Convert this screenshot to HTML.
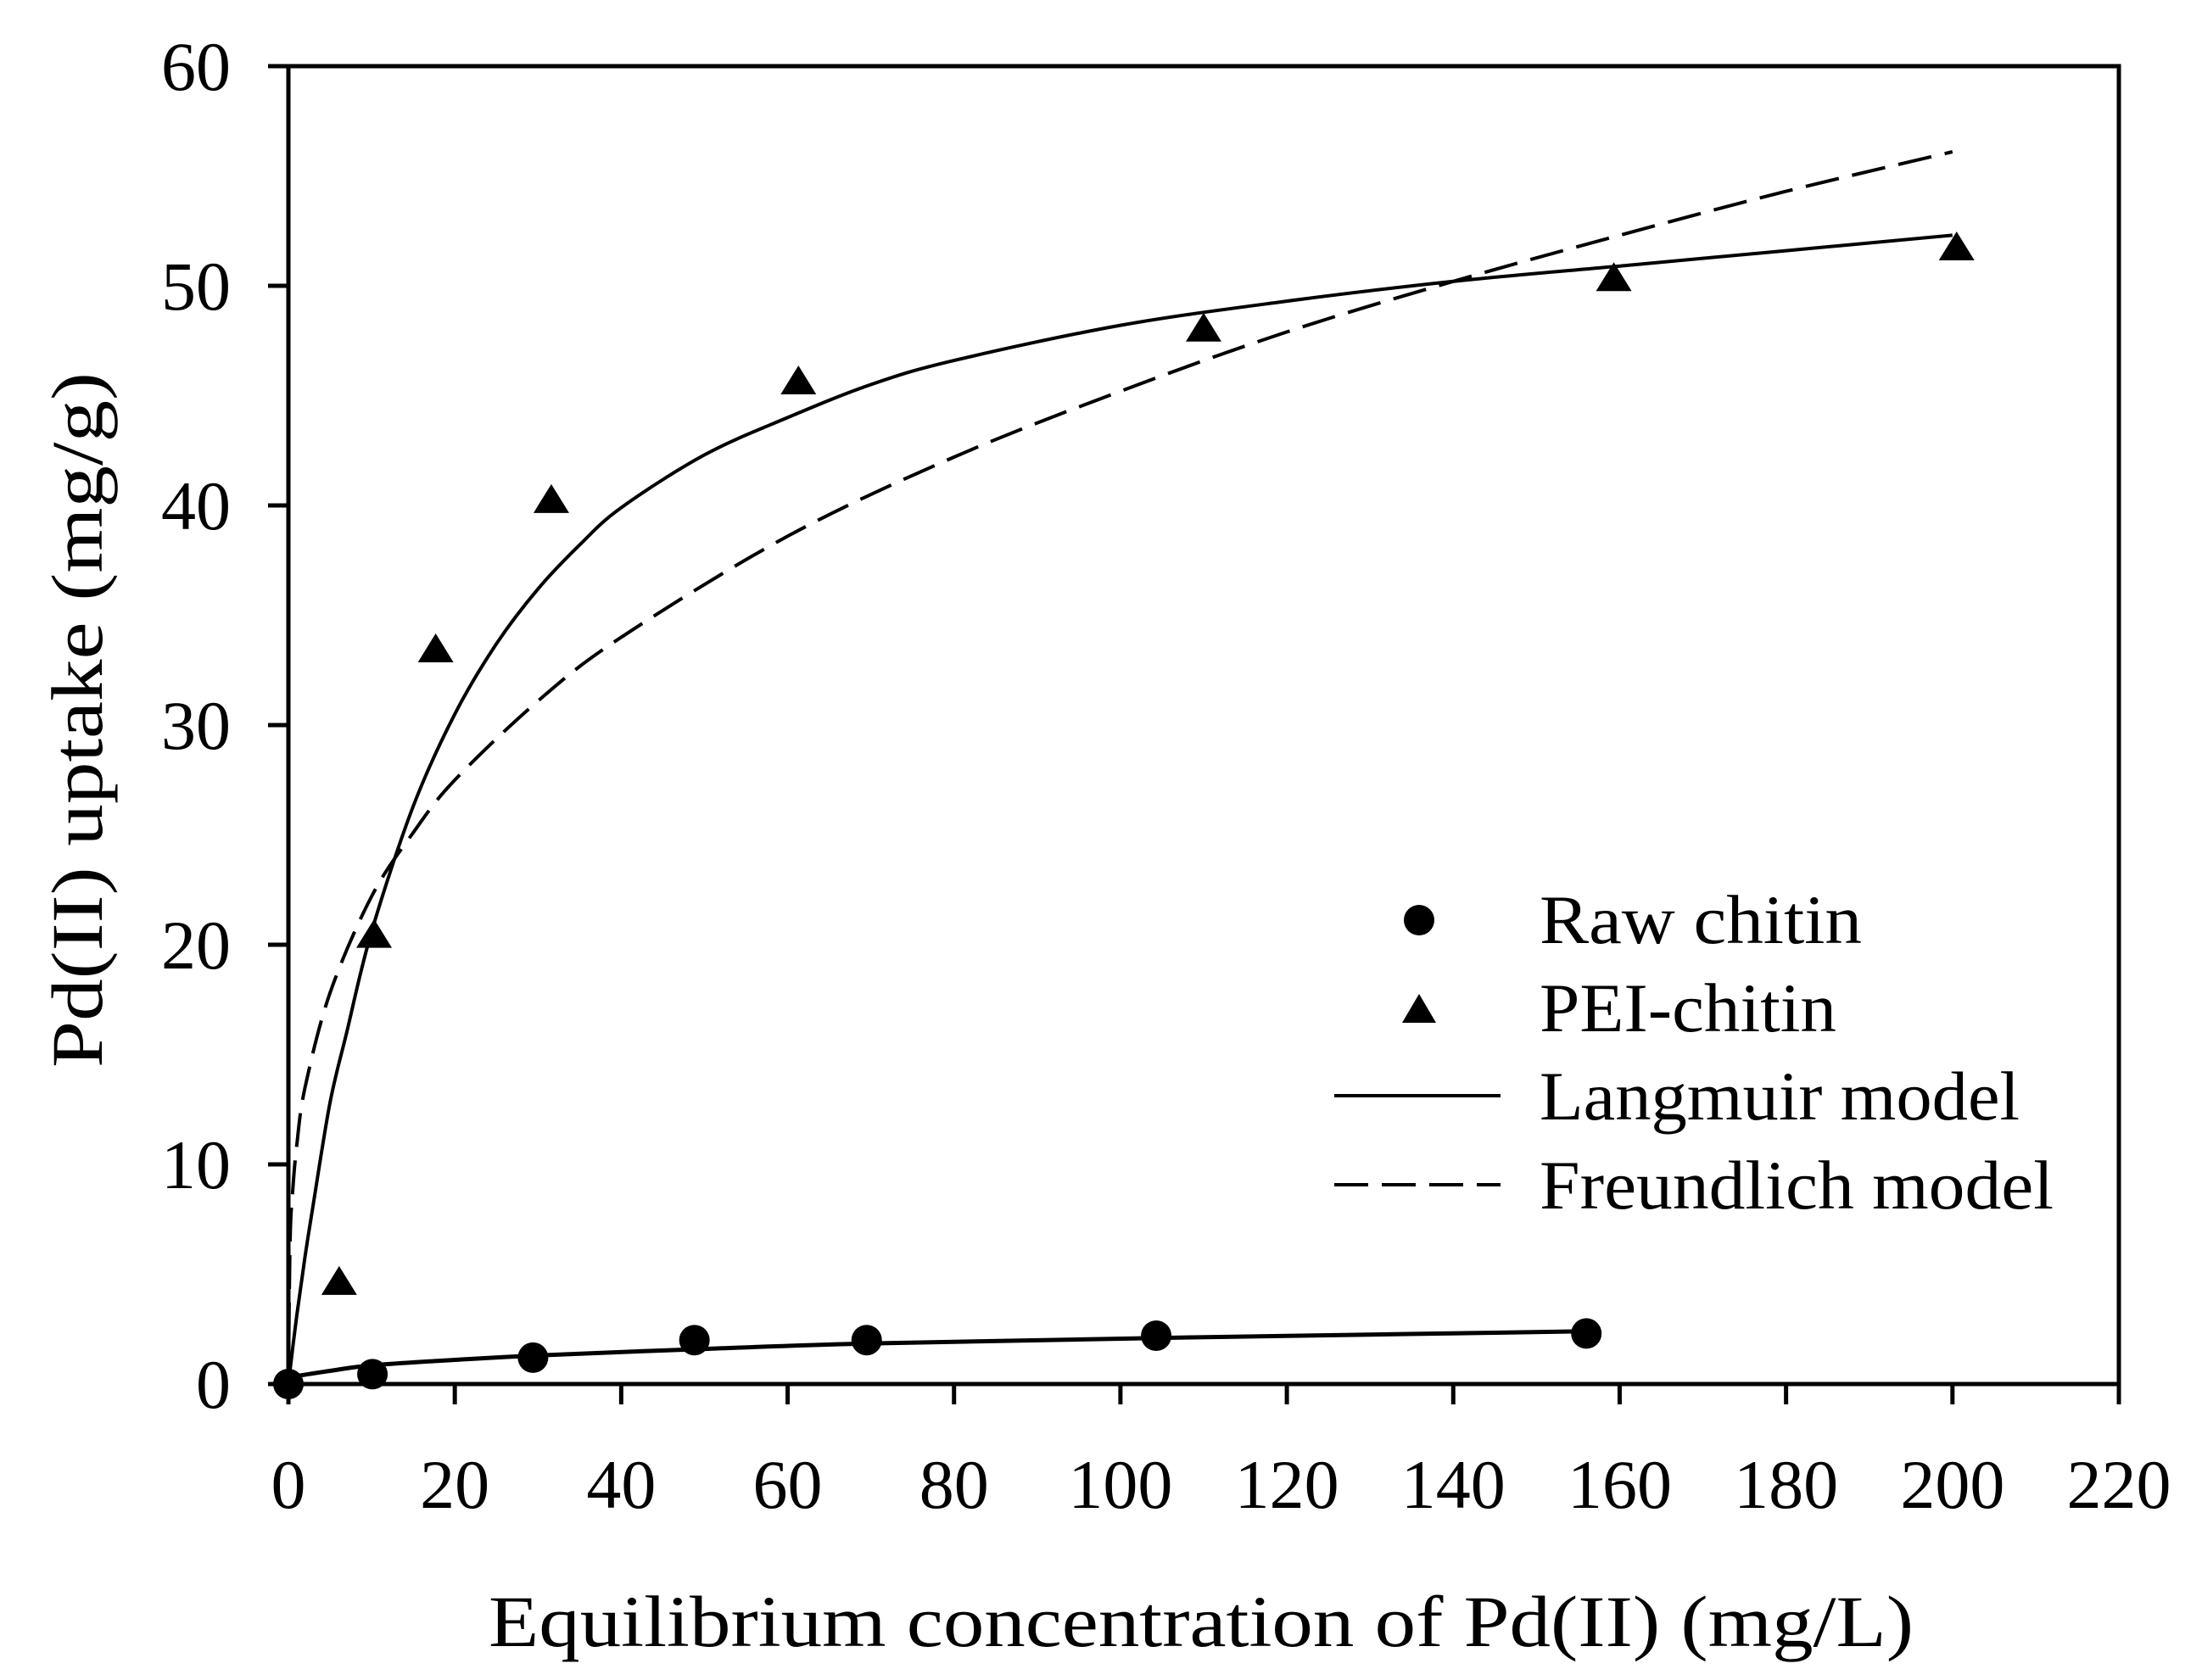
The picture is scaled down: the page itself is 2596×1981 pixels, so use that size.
<!DOCTYPE html>
<html><head><meta charset="utf-8">
<style>
html,body{margin:0;padding:0;background:#fff;}
svg{display:block;}
text{font-family:"Liberation Serif",serif;fill:#000;}
</style></head>
<body>
<svg id="chart" width="2596" height="1981" viewBox="0 0 2596 1981" xmlns="http://www.w3.org/2000/svg">
<rect width="2596" height="1981" fill="#fff"/>
<g id="plot"></g>
<g id="axes"></g>
<text x="1416" y="1941" font-size="86" text-anchor="middle" textLength="1680" lengthAdjust="spacingAndGlyphs">Equilibrium concentration of Pd(II) (mg/L)</text>
<text transform="translate(120,849) rotate(-90)" x="0" y="0" font-size="86" text-anchor="middle" textLength="820" lengthAdjust="spacingAndGlyphs">Pd(II) uptake (mg/g)</text>
<g>
  <circle cx="1673" cy="1085" r="18" fill="#000"/>
  <text x="1815" y="1112" font-size="82" textLength="380" lengthAdjust="spacingAndGlyphs">Raw chitin</text>
  <polygon points="1653,1206 1693,1206 1673,1172" fill="#000"/>
  <text x="1815" y="1216" font-size="82" textLength="350" lengthAdjust="spacingAndGlyphs">PEI-chitin</text>
  <line x1="1573" y1="1292" x2="1769" y2="1292" stroke="#000" stroke-width="4"/>
  <text x="1815" y="1320" font-size="82" textLength="566" lengthAdjust="spacingAndGlyphs">Langmuir model</text>
  <line x1="1573" y1="1397" x2="1769" y2="1397" stroke="#000" stroke-width="4" stroke-dasharray="40,16"/>
  <text x="1815" y="1425" font-size="82" textLength="606" lengthAdjust="spacingAndGlyphs">Freundlich model</text>
</g>
</svg>
<script>
const xTicks = [0,20,40,60,80,100,120,140,160,180,200,220];
const yTicks = [0,10,20,30,40,50,60];
const rawX = [0,10.1,29.4,48.8,69.5,104.3,156];
const rawY = [0,0.45,1.2,2.0,2.0,2.2,2.3];
const peiX = [6.1,10.3,17.7,31.6,61.3,110,159.3,200.5];
const peiY = [4.6,20.4,33.4,40.2,45.6,48.0,50.3,51.7];
const langX = [0,1,2,3,5,7,10,15,20,25,30,35,40,50,60,70,80,100,120,140,160,180,200];
const langY = [0,3.1,5.8,8.2,12.8,16.0,20.6,26.3,30.5,33.7,36.2,38.2,39.9,42.3,44.0,45.5,46.6,48.2,49.3,50.2,50.9,51.6,52.3];
const freuX = [0,0.2,0.5,1,2,5,10,15,20,30,40,60,80,100,120,140,160,180,200];
const freuY = [0,6.5,8.7,10.85,13.5,17.8,22.2,25.1,27.5,31.1,34.0,38.6,42.2,45.2,47.9,50.2,52.3,54.3,56.1];
const rawFitX = [0,5,10,20,30,50,70,105,156];
const rawFitY = [0.3,0.6,0.85,1.1,1.3,1.6,1.85,2.1,2.4];

const L=340,R=2498,T=78,B=1632;
const sx = v => L + (v-0)/(220-0)*(R-L);
const sy = v => B - (v-0)/(60-0)*(B-T);
const NS="http://www.w3.org/2000/svg";
const plot=document.getElementById('plot'), axes=document.getElementById('axes');
function mk(tag,attrs,parent){const e=document.createElementNS(NS,tag);for(const k in attrs)e.setAttribute(k,attrs[k]);parent.appendChild(e);return e;}
function path(xs,ys){
  const P=xs.map((x,i)=>[sx(x),sy(ys[i])]);
  let d='M'+P[0][0].toFixed(1)+','+P[0][1].toFixed(1);
  for(let i=0;i<P.length-1;i++){
    const p0=P[i-1]||P[i],p1=P[i],p2=P[i+1],p3=P[i+2]||P[i+1];
    const c1=[p1[0]+(p2[0]-p0[0])/6,p1[1]+(p2[1]-p0[1])/6];
    const c2=[p2[0]-(p3[0]-p1[0])/6,p2[1]-(p3[1]-p1[1])/6];
    d+=` C${c1[0].toFixed(1)},${c1[1].toFixed(1)} ${c2[0].toFixed(1)},${c2[1].toFixed(1)} ${p2[0].toFixed(1)},${p2[1].toFixed(1)}`;
  }
  return d;
}

let p;
p=mk('path',{d:path(langX,langY),fill:'none',stroke:'#000','stroke-width':4},plot);


p=mk('path',{d:path(freuX,freuY),fill:'none',stroke:'#000','stroke-width':4,'stroke-dasharray':'40,16'},plot);


p=mk('path',{d:path(rawFitX,rawFitY),fill:'none',stroke:'#000','stroke-width':5},plot);



rawX.forEach((x,i)=>{
  const c=mk('circle',{cx:sx(x),cy:sy(rawY[i]),r:18,fill:'#000'},plot);
  
  
});
peiX.forEach((x,i)=>{
  const cx=sx(x),cy=sy(peiY[i]);
  const t=mk('polygon',{points:`${cx-21},${cy+14} ${cx+21},${cy+14} ${cx},${cy-20}`,fill:'#000'},plot);
  
  
});

const frame=mk('rect',{x:L,y:T,width:R-L,height:B-T,fill:'none',stroke:'#000','stroke-width':5},axes);


xTicks.forEach(v=>{
  const l=mk('line',{x1:sx(v),x2:sx(v),y1:B,y2:B+24,stroke:'#000','stroke-width':5},axes);
  
  
  const t=mk('text',{x:sx(v),y:1778,'font-size':82,'text-anchor':'middle'},axes);
  t.textContent=v;
  
  
});
yTicks.forEach(v=>{
  const l=mk('line',{x1:L-24,x2:L,y1:sy(v),y2:sy(v),stroke:'#000','stroke-width':5},axes);
  
  
  const t=mk('text',{x:272,y:sy(v)+28,'font-size':82,'text-anchor':'end'},axes);
  t.textContent=v;
  
  
});
</script>
</body></html>
